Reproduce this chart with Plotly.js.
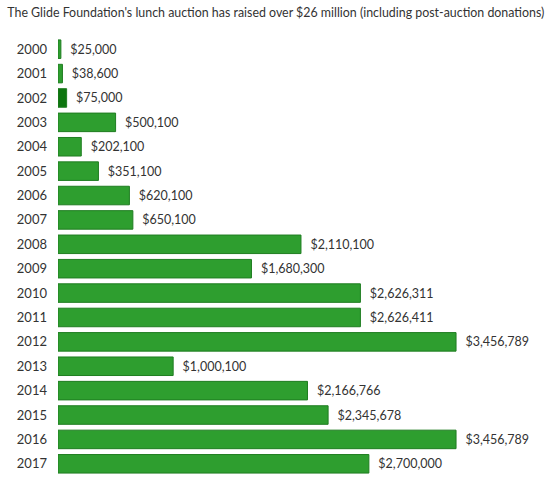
<!DOCTYPE html>
<html>
<head>
<meta charset="utf-8">
<script src="https://cdn.plot.ly/plotly-3.0.1.min.js"></script>
<style>
  html, body { margin: 0; padding: 0; background: #fff; }
  #chart { width: 559px; height: 481px; }
</style>
</head>
<body>
<div id="chart"></div>
<script>
// years and money raised at each lunch auction
var years = ["2000", "2001", "2002", "2003", "2004", "2005", "2006", "2007", "2008",
  "2009", "2010", "2011", "2012", "2013", "2014", "2015", "2016", "2017"];
var raised = [25000, 38600, 75000, 500100, 202100, 351100, 620100, 650100, 2110100,
  1680300, 2626311, 2626411, 3456789, 1000100, 2166766, 2345678, 3456789, 2700000];
var highlightYear = "2002";

var green = "#2e9e2f";
var darkGreen = "#0d750f";
var fontFam = "Lato, sans-serif";

// 2002 is drawn darker than the rest
var fills = years.map(function (y) { return y === highlightYear ? darkGreen : green; });

var trace = {
  type: "bar",
  orientation: "h",
  x: raised,
  y: years,
  marker: {
    color: fills,
    line: { color: "#1f7d21", width: 1 }
  },
  // non-breaking spaces push the value away from the bar end
  texttemplate: "\u00a0\u00a0$%{x:,}",
  textposition: "outside",
  cliponaxis: false,
  textfont: { family: fontFam, size: 12.5, color: "#333" },
  hoverinfo: "none"
};

var layout = {
  width: 559,
  height: 481,
  margin: { l: 58, r: 0, t: 37, b: 5 },
  paper_bgcolor: "#fff",
  plot_bgcolor: "#fff",
  showlegend: false,
  bargap: 0.24,
  font: { family: fontFam, color: "#333" },
  title: {
    text: "The Glide Foundation's lunch auction has raised over $26 million (including post-auction donations)",
    x: 0.013, xanchor: "left", y: 0.982, yanchor: "top",
    font: { family: fontFam, size: 12.4, color: "#333" }
  },
  xaxis: {
    range: [0, 4351000],
    showgrid: false, zeroline: false, showticklabels: false, showline: false
  },
  yaxis: {
    type: "category",
    autorange: "reversed",
    showgrid: false, zeroline: false, showline: false,
    ticks: "", ticklen: 0,
    ticklabelstandoff: 10,
    tickfont: { family: fontFam, size: 13, color: "#333" }
  }
};

Plotly.newPlot("chart", [trace], layout, { displayModeBar: false, staticPlot: true });
</script>
</body>
</html>
